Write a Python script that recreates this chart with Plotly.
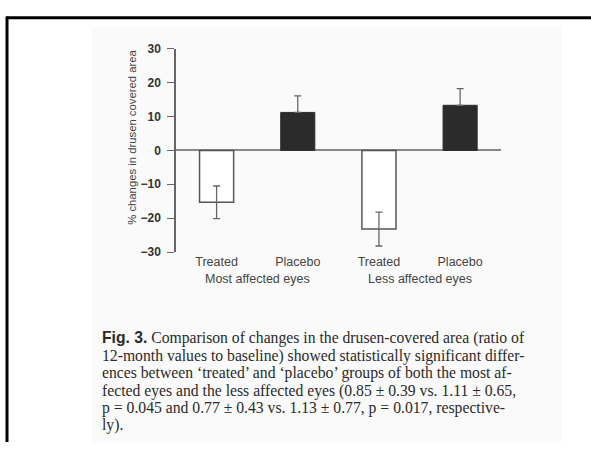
import plotly.graph_objects as go

W, H = 591, 449

# ---- data ----
groups = ["Most affected eyes", "Less affected eyes"]
bar_labels = ["Treated", "Placebo", "Treated", "Placebo"]
treated_vals = [-15.3, -23.2]
treated_err = [4.8, 5.0]
placebo_vals = [11.2, 13.3]
placebo_err = [4.9, 4.9]
y_ticks = [-30, -20, -10, 0, 10, 20, 30]
y_title = "% changes in drusen covered area"
caption_lines = [
    "<span style=\"font-family:'Liberation Sans', Arial, sans-serif;font-weight:bold\">Fig. 3.</span> Comparison of changes in the drusen-covered area (ratio of",
    "12-month values to baseline) showed statistically significant differ-",
    "ences between ‘treated’ and ‘placebo’ groups of both the most af-",
    "fected eyes and the less affected eyes (0.85 ± 0.39 vs. 1.11 ± 0.65,",
    "p = 0.045 and 0.77 ± 0.43 vs. 1.13 ± 0.77, p = 0.017, respective-",
    "ly).",
]

treated_x = [0, 2]
placebo_x = [1, 3]

fig = go.Figure()
fig.add_trace(go.Bar(
    x=treated_x, y=treated_vals, width=0.42,
    marker=dict(color="white", line=dict(color="#555555", width=1.5)),
    error_y=dict(type="data", array=treated_err, symmetric=True,
                 color="#666666", thickness=1.3, width=3.5),
    showlegend=False,
))
fig.add_trace(go.Bar(
    x=placebo_x, y=placebo_vals, width=0.42,
    marker=dict(color="#2b2b2b", line=dict(color="#2b2b2b", width=1)),
    error_y=dict(type="data", array=placebo_err, arrayminus=[0, 0], symmetric=False,
                 color="#666666", thickness=1.3, width=3.5),
    showlegend=False,
))

x0, x1 = 176, 500.7
ytop, ybot = 43, 253

shapes = [
    dict(type="rect", xref="paper", yref="paper", x0=92 / W, x1=561 / W,
         y0=0, y1=1 - 20 / H, fillcolor="#fafafa", line=dict(width=0), layer="below"),
    dict(type="line", xref="paper", yref="paper", x0=6 / W, x1=1, y0=1 - 11 / H, y1=1 - 11 / H,
         line=dict(color="black", width=3)),
    dict(type="line", xref="paper", yref="paper", x0=7 / W, x1=7 / W, y0=0, y1=1 - 10 / H,
         line=dict(color="black", width=3)),
]

annotations = []
for gx, g in zip([0.5, 2.5], groups):
    annotations.append(dict(x=gx, xref="x", y=1 - 281 / H, yref="paper", text=g,
                            showarrow=False, font=dict(family="Liberation Sans, Arial", size=12.5, color="#444444"),
                            xanchor="center", yanchor="middle"))
annotations.append(dict(x=132 / W, xref="paper", y=1 - 135 / H, yref="paper", text=y_title,
                        textangle=-90, showarrow=False,
                        font=dict(family="Liberation Sans, Arial", size=11.3, color="#444444"),
                        xanchor="center", yanchor="middle"))
line_y = [342, 360, 378, 396, 414, 431]
for ly, t in zip(line_y, caption_lines):
    annotations.append(dict(x=100 / W, xref="paper", y=1 - ly / H, yref="paper", text=t,
                            showarrow=False, xanchor="left", yanchor="middle",
                            font=dict(family="Liberation Serif, Times New Roman, serif", size=15.7, color="#2a2a2a")))

fig.update_layout(
    width=W, height=H, margin=dict(l=0, r=0, t=0, b=0),
    paper_bgcolor="white", plot_bgcolor="rgba(0,0,0,0)",
    barmode="overlay",
    shapes=shapes, annotations=annotations,
    xaxis=dict(domain=[x0 / W, x1 / W], range=[-0.5, 3.5],
               tickvals=[0, 1, 2, 3], ticktext=bar_labels,
               showline=False, showgrid=False, zeroline=False, ticks="",
               tickfont=dict(family="Liberation Sans, Arial", size=12.5, color="#444444"),
               ticklabelstandoff=0),
    yaxis=dict(domain=[1 - ybot / H, 1 - ytop / H], range=[-30, 30],
               tickvals=y_ticks, showgrid=False,
               showline=True, linecolor="#666666", linewidth=1.5,
               ticks="outside", ticklen=7, tickwidth=1.3, tickcolor="#666666",
               ticklabelstandoff=4,
               zeroline=True, zerolinecolor="#888888", zerolinewidth=1.5,
               tickfont=dict(family="Liberation Sans, Arial", size=12, color="#333333", weight="bold")),
)

fig.write_html("out.html")
